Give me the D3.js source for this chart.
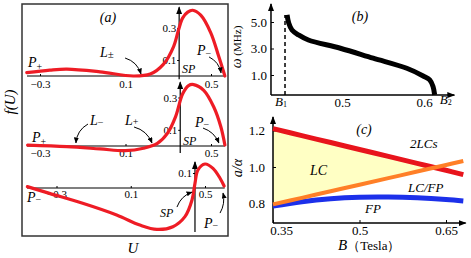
<!DOCTYPE html>
<meta charset="utf-8">
<head></head>
<script src="https://d3js.org/d3.v7.min.js"></script>
<body style="margin:0">
  <div id="chart"></div>
</body>
<script>
  // ---- panel (a): f(U) for three cases ----
  var topU = [-0.362, -0.254, -0.174, -0.019, 0.136, 0.216, 0.278, 0.325, 0.348, 0.367, 0.391, 0.414, 0.452, 0.499, 0.536, 0.565];
  var topF = [0.021, 0.037, 0.043, 0.026, 0.0, 0.012, 0.074, 0.184, 0.288, 0.362, 0.399, 0.411, 0.380, 0.270, 0.123, 0.0];
  var midU = [-0.358, -0.174, -0.019, 0.099, 0.184, 0.249, 0.296, 0.334, 0.367, 0.395, 0.419, 0.466, 0.513, 0.546, 0.565];
  var midF = [0.006, -0.004, -0.018, -0.029, -0.014, 0.016, 0.078, 0.180, 0.322, 0.374, 0.380, 0.344, 0.241, 0.119, 0.006];
  var botU = [-0.457, -0.338, -0.159, 0.024, 0.149, 0.241, 0.327, 0.392, 0.430, 0.446, 0.462, 0.500, 0.543, 0.581, 0.603];
  var botF = [0.009, -0.036, -0.102, -0.180, -0.247, -0.276, -0.258, -0.191, -0.080, 0.031, 0.120, 0.160, 0.131, 0.065, 0.013];
  var uTicks = [-0.3, 0.1, 0.5];
  var fTicks = [0.1, 0.3];
  var fTicksBot = [0.1];

  // ---- panel (b): omega vs B ----
  var bField = [0.433, 0.435, 0.439, 0.447, 0.459, 0.498, 0.538, 0.579, 0.599, 0.607, 0.611, 0.613];
  var omega = [5.53, 4.93, 4.40, 4.02, 3.64, 3.02, 2.27, 1.51, 0.93, 0.63, 0.13, -0.5];
  var omegaTicks = [1, 3, 5];
  var bTicks = [0.5, 0.6];
  var b1 = 0.4305, b2 = 0.624;

  // ---- panel (c): a/alpha vs B (Tesla) ----
  var tesla = [0.35, 0.40, 0.45, 0.50, 0.55, 0.60, 0.65, 0.68];
  var redLine = [1.21, 1.172, 1.134, 1.096, 1.058, 1.02, 0.982, 0.958];
  var orangeLine = [0.795, 0.831, 0.867, 0.903, 0.939, 0.975, 1.011, 1.033];
  var blueLine = [0.786, 0.81, 0.826, 0.834, 0.835, 0.831, 0.822, 0.814];
  var teslaTicks = [0.35, 0.5, 0.65];
  var ratioTicks = [0.8, 1.0, 1.2];

  var FONT = "'Liberation Serif', 'Times New Roman', serif";

  var svg = d3.select("#chart").append("svg")
    .attr("width", 471).attr("height", 258)
    .style("font-family", FONT);

  var defs = svg.append("defs");
  defs.append("marker").attr("id", "axArrow")
    .attr("viewBox", "0 0 8 6").attr("refX", 7).attr("refY", 3)
    .attr("markerWidth", 8).attr("markerHeight", 6)
    .attr("markerUnits", "userSpaceOnUse").attr("orient", "auto")
    .append("path").attr("d", "M0,0 L8,3 L0,6 Z").attr("fill", "#000");
  defs.append("marker").attr("id", "smArrow")
    .attr("viewBox", "0 0 6 5").attr("refX", 5.5).attr("refY", 2.5)
    .attr("markerWidth", 6).attr("markerHeight", 5)
    .attr("markerUnits", "userSpaceOnUse").attr("orient", "auto")
    .append("path").attr("d", "M0,0 L6,2.5 L0,5 Z").attr("fill", "#000");

  function label(g, x, y, main, sub, opt) {
    opt = opt || {};
    var t = g.append("text").attr("x", x).attr("y", y)
      .style("font-family", FONT)
      .style("font-size", (opt.size || 14) + "px");
    if (opt.anchor) t.attr("text-anchor", opt.anchor);
    t.append("tspan").style("font-style", opt.upright ? "normal" : "italic").text(main);
    if (sub) t.append("tspan").attr("dy", opt.dy == null ? 3 : opt.dy)
      .style("font-size", (opt.subSize || 10) + "px").text(sub);
    return t;
  }

  // tidy a d3 axis: serif text, no domain path
  function styleAxis(ax, size) {
    ax.attr("font-family", null).attr("font-size", null);
    ax.select(".domain").remove();
    ax.selectAll("text").style("font-size", size + "px").style("font-family", FONT);
    return ax;
  }

  function bentArrow(g, p0, p1, bend) {
    var mx = (p0[0] + p1[0]) / 2, my = (p0[1] + p1[1]) / 2;
    var dx = p1[0] - p0[0], dy = p1[1] - p0[1], L = Math.hypot(dx, dy);
    var cx = mx + bend * dy / L, cy = my - bend * dx / L;
    g.append("path")
      .attr("d", "M" + p0[0] + "," + p0[1] + " Q" + cx + "," + cy + " " + p1[0] + "," + p1[1])
      .attr("fill", "none").attr("stroke", "#000").attr("stroke-width", 1)
      .attr("marker-end", "url(#smArrow)");
  }

  // ================= panel (a) =================
  var gA = svg.append("g");
  gA.append("rect").attr("x", 22).attr("y", 4).attr("width", 206).attr("height", 232)
    .attr("fill", "none").attr("stroke", "#333").attr("stroke-width", 1.5);

  var xA = d3.scaleLinear().domain([-0.3, 0.5]).range([40, 211]);
  var xAbot = d3.scaleLinear().domain([-0.3, 0.5]).range([56.5, 205]);
  var yTop = d3.scaleLinear().domain([0, 0.3]).range([76, 28]);
  var yMid = d3.scaleLinear().domain([0, 0.3]).range([146, 97.5]);
  var yBot = d3.scaleLinear().domain([0, 0.1]).range([188, 173]);

  function subPlot(x, y, U, F, axisU, spU, vExt, ticksF, pad) {
    var g = gA.append("g");
    g.append("line")
      .attr("x1", x(axisU[0])).attr("x2", x(axisU[1]))
      .attr("y1", y(0)).attr("y2", y(0))
      .attr("stroke", "#000").attr("stroke-width", 1.2);
    var ax = g.append("g").attr("transform", "translate(0," + y(0) + ")")
      .call(d3.axisBottom(x).tickValues(uTicks).tickSizeInner(-2).tickSizeOuter(0)
        .tickPadding(pad).tickFormat(d3.format(".1f")));
    styleAxis(ax, 11);
    g.append("line")
      .attr("x1", x(spU)).attr("x2", x(spU))
      .attr("y1", y(vExt[0])).attr("y2", y(vExt[1]))
      .attr("stroke", "#000").attr("stroke-width", 1.2)
      .attr("marker-end", "url(#axArrow)");
    var ay = g.append("g").attr("transform", "translate(" + x(spU) + ",0)")
      .call(d3.axisLeft(y).tickValues(ticksF).tickSizeInner(2).tickSizeOuter(0)
        .tickPadding(1).tickFormat(d3.format(".1f")));
    styleAxis(ay, 11);
    var line = d3.line()
      .x(function (d, i) { return x(U[i]); })
      .y(function (d, i) { return y(F[i]); })
      .curve(d3.curveCatmullRom.alpha(0.5));
    g.append("path").datum(U).attr("d", line)
      .attr("fill", "none").attr("stroke", "#ee1c25").attr("stroke-width", 3.2)
      .attr("stroke-linecap", "round");
    return g;
  }

  subPlot(xA, yTop, topU, topF, [-0.361, 0.565], 0.351, [-0.02, 0.43], fTicks, 4);
  subPlot(xA, yMid, midU, midF, [-0.361, 0.565], 0.356, [-0.044, 0.395], fTicks, 3);
  subPlot(xAbot, yBot, botU, botF, [-0.459, 0.606], 0.446, [-0.293, 0.173], fTicksBot, 2);

  // annotations (a)
  label(gA, 108, 22, "(a)", null, { anchor: "middle" });
  label(gA, 28, 67, "P", "+");
  label(gA, 100, 57, "L", "\u00b1", { dy: 1, subSize: 11 });
  label(gA, 182, 73, "SP", null, { size: 12 });
  label(gA, 197, 55, "P", "\u2212", { dy: 2 });
  bentArrow(gA, [xA(0.098), yTop(0.1125)], [xA(0.1725), yTop(0.0125)], 6);
  bentArrow(gA, [xA(0.491), yTop(0.119)], [xA(0.547), yTop(0.019)], 5);

  label(gA, 32, 142, "P", "+");
  label(gA, 90, 125, "L", "\u2212", { dy: 1 });
  label(gA, 125, 125, "L", "+", { dy: 0 });
  label(gA, 195, 127, "P", "\u2212", { dy: 1 });
  label(gA, 183, 145, "SP", null, { size: 12 });
  bentArrow(gA, [xA(-0.0755), yMid(0.136)], [xA(-0.132), yMid(0.0186)], -6);
  bentArrow(gA, [xA(0.14), yMid(0.1175)], [xA(0.224), yMid(0.0186)], 6);
  bentArrow(gA, [xA(0.4626), yMid(0.111)], [xA(0.537), yMid(0.0186)], 5);

  label(gA, 27, 202, "P", "\u2212", { dy: 1 });
  label(gA, 160, 217, "SP", null, { size: 12 });
  label(gA, 204, 228, "P", "\u2212", { dy: 1 });
  bentArrow(gA, [xAbot(0.349), yBot(-0.127)], [xAbot(0.43), yBot(-0.027)], 5);
  bentArrow(gA, [xAbot(0.581), yBot(-0.167)], [xAbot(0.597), yBot(-0.033)], -4);

  label(svg, 133, 253, "U", null, { size: 15, anchor: "middle" });
  svg.append("text").attr("transform", "translate(15,102) rotate(-90)")
    .attr("text-anchor", "middle").style("font-size", "15px").style("font-style", "italic")
    .style("font-family", FONT).text("f(U)");

  // ================= panel (b) =================
  var gB = svg.append("g");
  var xB = d3.scaleLinear().domain([0.5, 0.6]).range([342, 424]);
  var yB = d3.scaleLinear().domain([1, 5]).range([75, 22]);
  var bMin = 0.4134, bMax = 0.637, wMin = -0.51, wMax = 6.36;

  gB.append("line").attr("x1", xB(bMin)).attr("x2", xB(bMin))
    .attr("y1", yB(wMin)).attr("y2", yB(wMax))
    .attr("stroke", "#000").attr("stroke-width", 1.5).attr("marker-end", "url(#axArrow)");
  gB.append("line").attr("x1", xB(bMin)).attr("x2", xB(bMax))
    .attr("y1", yB(wMin)).attr("y2", yB(wMin))
    .attr("stroke", "#000").attr("stroke-width", 1.5).attr("marker-end", "url(#axArrow)");

  var bx = gB.append("g").attr("transform", "translate(0," + yB(wMin) + ")")
    .call(d3.axisBottom(xB).tickValues(bTicks).tickSizeInner(0).tickSizeOuter(0)
      .tickPadding(3).tickFormat(d3.format(".1f")));
  styleAxis(bx, 13);
  var by = gB.append("g").attr("transform", "translate(" + xB(bMin) + ",0)")
    .call(d3.axisLeft(yB).tickValues(omegaTicks).tickSizeInner(-3).tickSizeOuter(0)
      .tickPadding(4).tickFormat(d3.format(".1f")));
  styleAxis(by, 13);

  gB.append("line").attr("x1", xB(b1)).attr("x2", xB(b1))
    .attr("y1", yB(wMin)).attr("y2", yB(omega[0]))
    .attr("stroke", "#000").attr("stroke-width", 1.5).attr("stroke-dasharray", "4,3");

  var lineB = d3.line()
    .x(function (d, i) { return xB(bField[i]); })
    .y(function (d, i) { return yB(omega[i]); })
    .curve(d3.curveCatmullRom.alpha(0.5));
  gB.append("path").datum(bField).attr("d", lineB)
    .attr("fill", "none").attr("stroke", "#000").attr("stroke-width", 5)
    .attr("stroke-linejoin", "round");

  label(gB, 360, 21, "(b)", null, { anchor: "middle" });
  label(gB, xB(b1) - 10, 106, "B", "1", { size: 13, subSize: 8, dy: 1 });
  label(gB, xB(b2) - 4, 104, "B", "2", { size: 13, subSize: 8, dy: 1 });
  var wt = gB.append("text").attr("transform", "translate(241,47) rotate(-90)")
    .attr("text-anchor", "middle").style("font-family", FONT);
  wt.append("tspan").style("font-size", "14px").style("font-style", "italic").text("\u03c9");
  wt.append("tspan").style("font-size", "11px").text(" (MHz)");

  // ================= panel (c) =================
  var gC = svg.append("g");
  var xC = d3.scaleLinear().domain([0.35, 0.65]).range([273, 446]);
  var yC = d3.scaleLinear().domain([0.8, 1.2]).range([203.5, 130.5]);
  var rMin = 0.693, rMax = 1.274, tMax = 0.684;

  // yellow LC region between orange (below) and red (above) up to the crossing
  var region = [];
  for (var i = 0; i < tesla.length; i++) {
    var gap = redLine[i] - orangeLine[i];
    if (gap >= 0) {
      region.push([tesla[i], orangeLine[i], redLine[i]]);
    } else {
      var prev = redLine[i - 1] - orangeLine[i - 1];
      var f = prev / (prev - gap);
      var bx0 = tesla[i - 1] + f * (tesla[i] - tesla[i - 1]);
      var v = orangeLine[i - 1] + f * (orangeLine[i] - orangeLine[i - 1]);
      region.push([bx0, v, v]);
      break;
    }
  }
  var area = d3.area()
    .x(function (d) { return xC(d[0]); })
    .y0(function (d) { return yC(d[1]); })
    .y1(function (d) { return yC(d[2]); });
  gC.append("path").datum(region).attr("d", area).attr("fill", "#ffffc4");

  gC.append("line").attr("x1", xC(0.35)).attr("x2", xC(0.35))
    .attr("y1", yC(rMin)).attr("y2", yC(rMax))
    .attr("stroke", "#000").attr("stroke-width", 1.5).attr("marker-end", "url(#axArrow)");
  gC.append("line").attr("x1", xC(0.35)).attr("x2", xC(tMax))
    .attr("y1", yC(rMin)).attr("y2", yC(rMin))
    .attr("stroke", "#000").attr("stroke-width", 1.5).attr("marker-end", "url(#axArrow)");

  var cx = gC.append("g").attr("transform", "translate(0," + yC(rMin) + ")")
    .call(d3.axisBottom(xC).tickValues(teslaTicks).tickSizeInner(-3).tickSizeOuter(0)
      .tickPadding(3).tickFormat(String));
  styleAxis(cx, 13);
  cx.selectAll("text").attr("dx", function (d) { return d === 0.35 ? 8 : 0; });
  var cy = gC.append("g").attr("transform", "translate(" + xC(0.35) + ",0)")
    .call(d3.axisLeft(yC).tickValues(ratioTicks).tickSizeInner(-3).tickSizeOuter(0)
      .tickPadding(8).tickFormat(d3.format(".1f")));
  styleAxis(cy, 13);

  function seriesLine(vals, color, w) {
    var ln = d3.line()
      .x(function (d, i) { return xC(tesla[i]); })
      .y(function (d) { return yC(d); })
      .curve(d3.curveCatmullRom.alpha(0.5));
    gC.append("path").datum(vals).attr("d", ln)
      .attr("fill", "none").attr("stroke", color).attr("stroke-width", w);
  }
  seriesLine(blueLine, "#1c30ea", 5);
  seriesLine(redLine, "#e8141c", 5);
  seriesLine(orangeLine, "#ff7f27", 4);

  label(gC, 364, 134, "(c)", null, { anchor: "middle" });
  label(gC, 410, 148, "2LCs", null, { size: 13 });
  label(gC, 310, 175, "LC", null, { size: 14 });
  label(gC, 408, 192, "LC/FP", null, { size: 13 });
  label(gC, 365, 213, "FP", null, { size: 13 });
  var bt = gC.append("text").attr("x", 338).attr("y", 250).style("font-family", FONT);
  bt.append("tspan").style("font-size", "15px").style("font-style", "italic").text("B");
  bt.append("tspan").style("font-size", "13px").text("\uff08Tesla\uff09");
  gC.append("text").attr("transform", "translate(242,168) rotate(-90)")
    .attr("text-anchor", "middle").style("font-size", "14px").style("font-style", "italic")
    .style("font-family", FONT).text("a/\u03b1");
</script>
